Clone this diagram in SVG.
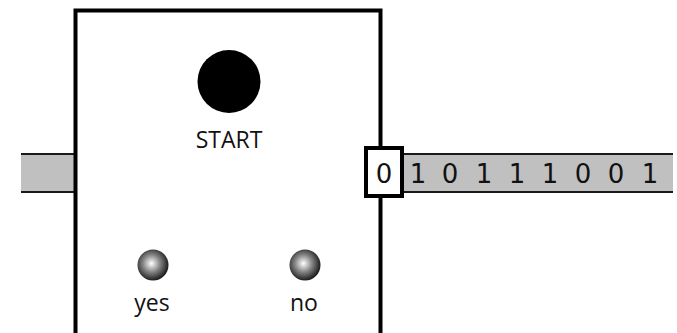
<svg xmlns="http://www.w3.org/2000/svg" width="677" height="333" viewBox="0 0 677 333">
<style>
.tape{fill:#c0c0c0;stroke:none}
.edge{stroke:#1a1a1a;stroke-width:2;fill:none}
.lbl{font-family:"Open Sans","Noto Sans",sans-serif;font-size:23px;fill:#111}
.bit{font-family:"DejaVu Sans",sans-serif;font-size:26px;fill:#111;text-anchor:middle}
</style>
<defs>
<radialGradient id="ball" cx="0.45" cy="0.45" r="0.6">
<stop offset="0" stop-color="#ffffff"/>
<stop offset="0.45" stop-color="#888888"/>
<stop offset="1" stop-color="#0a0a0a"/>
</radialGradient>
</defs>
<rect width="677" height="333" fill="#fff"/>
<g id="tape-left">
<rect class="tape" x="21" y="154" width="56" height="38"/>
<line class="edge" x1="21" y1="154" x2="77" y2="154"/>
<line class="edge" x1="21" y1="192" x2="77" y2="192"/>
</g>
<g id="tape-right">
<rect class="tape" x="402" y="154" width="271" height="38"/>
<line class="edge" x1="402" y1="154" x2="673" y2="154"/>
<line class="edge" x1="402" y1="192" x2="673" y2="192"/>
<text class="bit" x="418" y="183">1</text>
<text class="bit" x="450" y="183">0</text>
<text class="bit" x="484" y="183">1</text>
<text class="bit" x="517" y="183">1</text>
<text class="bit" x="550" y="183">1</text>
<text class="bit" x="583" y="183">0</text>
<text class="bit" x="616" y="183">0</text>
<text class="bit" x="650" y="183">1</text>
</g>
<g id="machine">
<rect x="75.5" y="10.5" width="305" height="340" fill="none" stroke="#000" stroke-width="4"/>
</g>
<g id="head">
<rect x="366" y="148" width="36" height="48" fill="#fff" stroke="#000" stroke-width="4"/>
<text class="bit" x="384" y="183">0</text>
</g>
<g id="start">
<circle cx="229" cy="81.5" r="31.5" fill="#000"/>
<text class="lbl" x="229" y="148" text-anchor="middle">START</text>
</g>
<g id="yes">
<circle cx="153" cy="265" r="15.5" fill="url(#ball)"/>
<text class="lbl" x="152" y="311" text-anchor="middle">yes</text>
</g>
<g id="no">
<circle cx="305" cy="265" r="15.5" fill="url(#ball)"/>
<text class="lbl" x="304" y="311" text-anchor="middle">no</text>
</g>
</svg>
